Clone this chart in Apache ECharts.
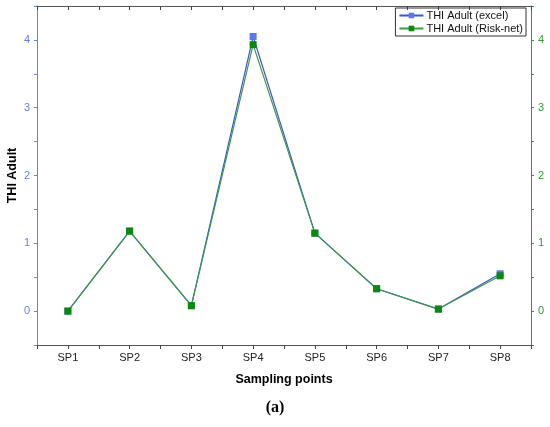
<!DOCTYPE html>
<html>
<head>
<meta charset="utf-8">
<script src="https://cdn.jsdelivr.net/npm/echarts@6/dist/echarts.min.js"></script>
<style>
  html, body { margin: 0; padding: 0; background: #fff; }
  #main { width: 550px; height: 427px; }
</style>
</head>
<body>
<div id="main"></div>
<script>
// sampling points on the x axis
var points = ['SP1', 'SP2', 'SP3', 'SP4', 'SP5', 'SP6', 'SP7', 'SP8'];
// THI Adult values
var excelVals = [0, 1.18, 0.08, 4.05, 1.15, 0.33, 0.03, 0.55];
var risknetVals = [0, 1.18, 0.08, 3.93, 1.15, 0.33, 0.03, 0.52];

var blue = '#6a7fe6';
var green = '#2f9a2f';
var font = 'Liberation Sans';

function intLabel(v) {
    // only whole numbers get a label, halves are minor ticks
    return Math.abs(v - Math.round(v)) < 1e-6 ? String(Math.round(v)) : '';
}

var tickStyle = { color: '#444', width: 1 };

var myChart = echarts.init(document.getElementById('main'));
myChart.setOption({
    animation: false,
    textStyle: { fontFamily: font },
    grid: { left: 37, right: 19, top: 6, bottom: 82, outerBoundsMode: 'none', containLabel: false },
    legend: {
        orient: 'vertical',
        right: 24,
        top: 8,
        padding: [2, 3, 2, 3],
        itemGap: 2,
        itemWidth: 24,
        itemHeight: 7,
        borderColor: '#333',
        borderWidth: 1,
        borderRadius: 0,
        textStyle: { fontFamily: font, fontSize: 11, color: '#111', padding: [0, 0, 0, -2] },
        data: ['THI Adult (excel)', 'THI Adult (Risk-net)']
    },
    xAxis: [{
        type: 'category',
        data: points,
        position: 'bottom',
        name: 'Sampling points',
        nameLocation: 'middle',
        nameGap: 28,
        nameTextStyle: { fontFamily: font, fontWeight: 'bold', fontSize: 12.5, color: '#000' },
        axisLine: { show: true, onZero: false, lineStyle: { color: '#555', width: 1 } },
        axisTick: { show: true, interval: 0, alignWithLabel: true, length: 4, lineStyle: tickStyle },
        axisLabel: { fontFamily: font, fontSize: 11, color: '#222', margin: 7 },
        splitLine: { show: false }
    }, {
        // boundary ticks between the sampling points
        type: 'category',
        data: points,
        position: 'bottom',
        axisLine: { show: false, onZero: false },
        axisTick: { show: true, interval: 0, length: 4, lineStyle: tickStyle },
        axisLabel: { show: false },
        splitLine: { show: false }
    }, {
        type: 'category',
        data: points,
        position: 'top',
        axisLine: { show: true, onZero: false, lineStyle: { color: '#555', width: 1 } },
        axisTick: { show: true, interval: 0, alignWithLabel: true, inside: true, length: 4, lineStyle: tickStyle },
        axisLabel: { show: false },
        splitLine: { show: false }
    }, {
        type: 'category',
        data: points,
        position: 'top',
        axisLine: { show: false, onZero: false },
        axisTick: { show: true, interval: 0, inside: true, length: 4, lineStyle: tickStyle },
        axisLabel: { show: false },
        splitLine: { show: false }
    }],
    yAxis: [{
        type: 'value',
        position: 'left',
        min: -0.5,
        max: 4.5,
        interval: 0.5,
        name: 'THI Adult',
        nameLocation: 'middle',
        nameGap: 18,
        nameMoveOverlap: false,
        nameRotate: 90,
        nameTextStyle: { fontFamily: font, fontWeight: 'bold', fontSize: 12.5, color: '#000' },
        axisLine: { show: true, onZero: false, lineStyle: { color: blue, width: 1 } },
        axisTick: { show: true, length: 3, lineStyle: { color: blue } },
        axisLabel: { fontFamily: font, fontSize: 11, color: blue, margin: 7, formatter: intLabel },
        splitLine: { show: false }
    }, {
        type: 'value',
        position: 'right',
        min: -0.5,
        max: 4.5,
        interval: 0.5,
        axisLine: { show: true, onZero: false, lineStyle: { color: green, width: 1 } },
        axisTick: { show: true, length: 3, lineStyle: { color: green } },
        axisLabel: { fontFamily: font, fontSize: 11, color: green, margin: 7, formatter: intLabel },
        splitLine: { show: false }
    }],
    series: [{
        name: 'THI Adult (excel)',
        type: 'line',
        xAxisIndex: 0,
        yAxisIndex: 0,
        data: excelVals,
        symbol: 'rect',
        symbolSize: 7,
        itemStyle: { color: '#5a78f0' },
        lineStyle: { color: '#3a55d0', width: 1.2 },
        z: 2
    }, {
        name: 'THI Adult (Risk-net)',
        type: 'line',
        xAxisIndex: 0,
        yAxisIndex: 1,
        data: risknetVals,
        symbol: 'rect',
        symbolSize: 7,
        itemStyle: { color: '#0a8a0a' },
        lineStyle: { color: '#3a9a45', width: 1.2 },
        z: 3
    }],
    graphic: [{
        type: 'text',
        left: 'center',
        top: 400,
        style: { text: '(a)', font: 'bold 16px "Liberation Serif"', fill: '#000' }
    }]
});
</script>
</body>
</html>
